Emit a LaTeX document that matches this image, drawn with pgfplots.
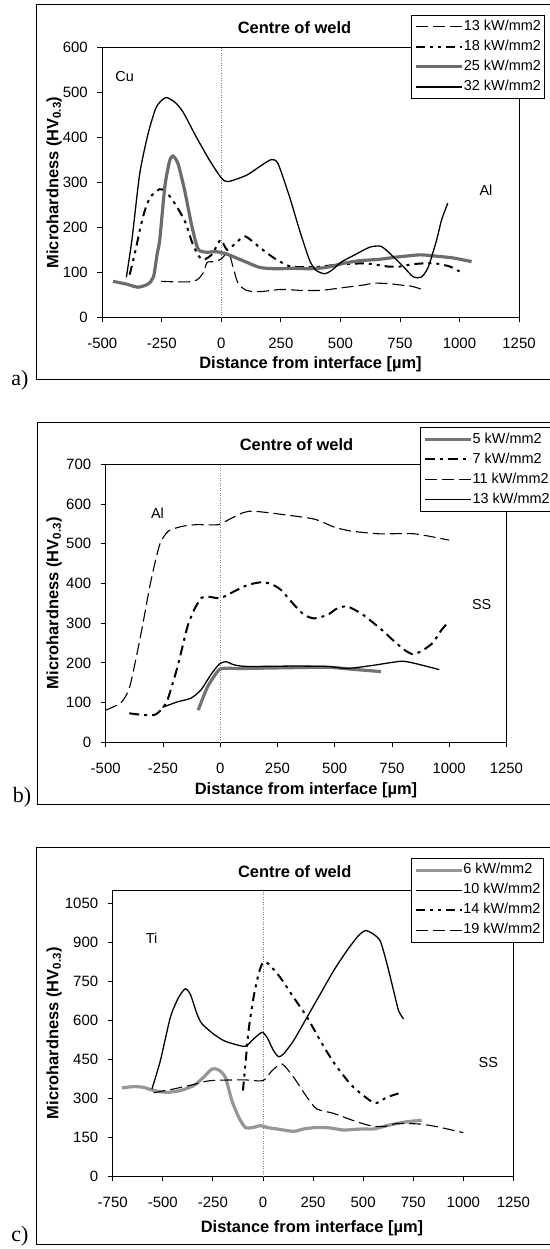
\documentclass[border=0pt]{standalone}
\usepackage{fontspec}
\setmainfont{Liberation Sans}
\newfontfamily\seriffont{Liberation Serif}
\usepackage{pgfplots}
\pgfplotsset{compat=1.18}
\definecolor{ga}{RGB}{108,108,108}
\definecolor{gb}{RGB}{115,115,115}
\definecolor{gc}{RGB}{150,150,150}
\pgfplotsset{
  myax/.style={
    scale only axis, anchor=south west,
    axis line style={line width=0.8bp},
    tick align=outside, major tick length=5bp,
    xtick pos=left, ytick pos=left,
    tick style={black, line width=0.8bp},
    ticklabel style={font=\fontsize{15}{17}\selectfont},
    xticklabel style={yshift=-12bp},
    yticklabel style={xshift=-6bp},
    /pgf/number format/assume math mode=true,
    /pgf/number format/1000 sep={},
    every axis plot/.append style={smooth, tension=0.4},
    legend cell align=left,
    legend image code/.code={\draw[#1] (0bp,0bp) -- (46bp,0bp);},
    legend style={draw=black, line width=0.8bp, fill=white, anchor=north west,
      font=\fontsize{14.5}{17}\selectfont, inner xsep=3bp, inner ysep=5bp, row sep=6.5bp,
      nodes={inner sep=0pt, text height=10.5bp, text depth=3bp}},
  },
  zeroline/.style={gray, line width=0.5bp, dotted, forget plot},
  ldash/.style={black, line width=1.1bp, dash pattern=on 12bp off 5bp},
  ddot/.style={black, line width=2bp, dash pattern=on 9bp off 5bp on 3bp off 5bp on 3bp off 5bp},
  dsdot/.style={black, line width=2bp, dash pattern=on 10bp off 5bp on 3bp off 5bp},
  thinsolid/.style={black, line width=1.3bp},
}
\newcommand{\lbl}{\bfseries\fontsize{16.5}{19}\selectfont}
\newcommand{\txt}{\fontsize{14.5}{17}\selectfont}
\begin{document}
\begin{tikzpicture}
\path[use as bounding box] (0,0) rectangle (550bp,-1249bp);
% ---------------- panel a ----------------
\draw[line width=1bp] (36bp,-4bp) rectangle (553bp,-379.3bp);
\node[font=\lbl] at (294.5bp,-27.3bp) {Centre of weld};
\node[font=\lbl] at (310.5bp,-364.3bp) {Distance from interface [µm]};
\node[font=\lbl, rotate=90] at (54bp,-182.5bp) {Microhardness (HV\textsubscript{0.3})};
\node[font=\txt] at (124.6bp,-76.7bp) {Cu};
\node[font=\txt] at (486bp,-190.7bp) {Al};
\node[font=\seriffont\fontsize{22}{24}\selectfont] at (20bp,-380bp) {a)};
\begin{axis}[myax, at={(102.3bp,-317.3bp)}, width=416.7bp, height=269.6bp,
  xmin=-500, xmax=1250, ymin=0, ymax=600,
  xtick={-500,-250,...,1250}, ytick={0,100,...,600},
  legend style={at={(0.7416,1.1224)}}]
\addplot[zeroline] coordinates {(0,0) (0,600)};
\addplot[ldash] coordinates {(-253,80) (-200,79) (-135,79) (-100,84) (-75,100) (-60,122) (-30,124) (0,130) (30,145) (50,110) (70,76) (105,60) (160,57) (250,62) (330,60) (420,60) (510,66) (600,72) (640,76) (700,75) (750,72) (800,69) (850,61)};
\addplot[ddot] coordinates {(-385,95) (-360,150) (-340,200) (-320,240) (-298,268) (-260,285) (-239,282) (-210,265) (-180,240) (-150,210) (-125,170) (-100,140) (-75,128) (-40,140) (-10,168) (0,172) (25,150) (60,165) (100,180) (160,156) (215,134) (260,120) (300,112) (400,112) (500,118) (600,120) (650,117) (700,113) (750,113) (800,118) (850,120) (900,120) (960,113) (1000,102)};
\addplot[ga, line width=3.2bp] coordinates {(-455,80) (-399,74) (-350,67) (-308,74) (-285,90) (-270,140) (-259,171) (-245,250) (-235,300) (-217,349) (-203,359) (-182,342) (-154,282) (-126,208) (-98,152) (-63,145) (-21,146) (21,141) (91,126) (161,111) (231,108) (301,109) (371,108) (441,111) (511,120) (581,126) (662,129) (736,134) (834,139) (904,136) (974,132) (1051,124)};
\addplot[thinsolid] coordinates {(-399,89) (-375,175) (-343,319) (-308,408) (-273,468) (-234,489) (-196,479) (-161,457) (-105,401) (-49,349) (0,310) (28,302) (105,316) (168,338) (210,351) (238,342) (287,267) (329,193) (371,126) (399,104) (434,97) (462,104) (504,123) (553,137) (623,156) (670,158) (708,142) (764,113) (806,90) (841,90) (869,112) (904,172) (925,217) (951,254)};
\legend{13 kW/mm2, 18 kW/mm2, 25 kW/mm2, 32 kW/mm2}
\end{axis}
% ---------------- panel b ----------------
\draw[line width=1bp] (37.3bp,-422.7bp) rectangle (553bp,-804.3bp);
\node[font=\lbl] at (296.5bp,-445bp) {Centre of weld};
\node[font=\lbl] at (306bp,-790bp) {Distance from interface [µm]};
\node[font=\lbl, rotate=90] at (54bp,-603.3bp) {Microhardness (HV\textsubscript{0.3})};
\node[font=\txt] at (157.5bp,-513.5bp) {Al};
\node[font=\txt] at (481.7bp,-604.3bp) {SS};
\node[font=\seriffont\fontsize{22}{24}\selectfont] at (22bp,-797bp) {b)};
\begin{axis}[myax, at={(105.7bp,-742.3bp)}, width=400.7bp, height=278bp,
  xmin=-500, xmax=1250, ymin=0, ymax=700,
  xtick={-500,-250,...,1250}, ytick={0,100,...,700},
  legend style={at={(0.7844,1.1331)}}]
\addplot[zeroline] coordinates {(0,0) (0,700)};
\addplot[gb, line width=3.2bp] coordinates {(-96,81) (-55,140) (-12,178) (10,186) (105,186) (323,188) (469,189) (556,185) (702,178)};
\addplot[dsdot] coordinates {(-397,73) (-339,69) (-288,69) (-259,81) (-230,107) (-186,191) (-143,291) (-114,333) (-84,363) (-55,367) (0,363) (61,380) (119,396) (178,403) (221,399) (265,384) (323,346) (367,321) (411,312) (469,321) (513,338) (556,342) (614,325) (660,305) (716,278) (753,258) (804,233) (840,222) (877,229) (928,250) (964,281) (1000,305)};
\addplot[ldash] coordinates {(-500,81) (-433,100) (-395,140) (-347,270) (-303,405) (-264,498) (-226,532) (-164,544) (-103,548) (-8,548) (38,561) (99,578) (145,582) (268,574) (411,562) (498,542) (571,532) (694,525) (848,525) (1000,509)};
\addplot[thinsolid] coordinates {(-252,88) (-186,102) (-128,111) (-84,132) (-41,170) (-4,197) (25,203) (61,195) (119,191) (323,192) (469,191) (556,186) (658,193) (789,204) (848,199) (957,183)};
\legend{5 kW/mm2, 7 kW/mm2, 11 kW/mm2, 13 kW/mm2}
\end{axis}
% ---------------- panel c ----------------
\draw[line width=1bp] (36bp,-847.3bp) rectangle (553bp,-1244bp);
\node[font=\lbl] at (294.7bp,-871.7bp) {Centre of weld};
\node[font=\lbl] at (312bp,-1228.3bp) {Distance from interface [µm]};
\node[font=\lbl, rotate=90] at (54bp,-1033.3bp) {Microhardness (HV\textsubscript{0.3})};
\node[font=\txt] at (151.7bp,-938.3bp) {Ti};
\node[font=\txt] at (488.3bp,-1062.3bp) {SS};
\node[font=\seriffont\fontsize{22}{24}\selectfont] at (20bp,-1236bp) {c)};
\begin{axis}[myax, at={(112.7bp,-1176.3bp)}, width=400.7bp, height=286bp,
  xmin=-750, xmax=1250, ymin=0, ymax=1100,
  xtick={-750,-500,...,1250}, ytick={0,150,...,1050},
  legend style={at={(0.7437,1.1129)}}]
\addplot[zeroline] coordinates {(0,0) (0,1100)};
\addplot[gc, line width=3.2bp] coordinates {(-704,340) (-645,345) (-595,342) (-546,330) (-479,323) (-412,330) (-346,349) (-296,381) (-254,413) (-221,409) (-188,381) (-155,291) (-121,227) (-88,188) (-47,188) (-13,195) (20,188) (70,182) (153,173) (203,182) (269,188) (336,186) (402,178) (486,182) (552,182) (619,195) (702,208) (792,216)};
\addplot[thinsolid] coordinates {(-554,336) (-512,445) (-462,612) (-421,688) (-388,721) (-363,701) (-329,624) (-304,586) (-246,547) (-196,522) (-146,509) (-88,500) (-47,528) (-5,554) (20,535) (53,483) (78,460) (103,471) (153,522) (220,612) (286,701) (353,791) (419,868) (477,926) (511,945) (544,935) (585,906) (619,817) (652,714) (677,637) (702,605)};
\addplot[ddot] coordinates {(-100,330) (-88,426) (-72,560) (-47,688) (-22,778) (0,823) (28,817) (86,765) (153,688) (220,612) (286,522) (353,438) (436,355) (502,310) (561,281) (619,304) (694,323)};
\addplot[ldash] coordinates {(-546,321) (-446,336) (-346,353) (-263,368) (-96,371) (0,368) (45,406) (95,432) (153,381) (220,304) (269,259) (353,242) (452,214) (535,195) (602,191) (669,203) (783,201) (867,191) (1000,168)};
\legend{6 kW/mm2, 10 kW/mm2, 14 kW/mm2, 19 kW/mm2}
\end{axis}
\end{tikzpicture}
\end{document}
